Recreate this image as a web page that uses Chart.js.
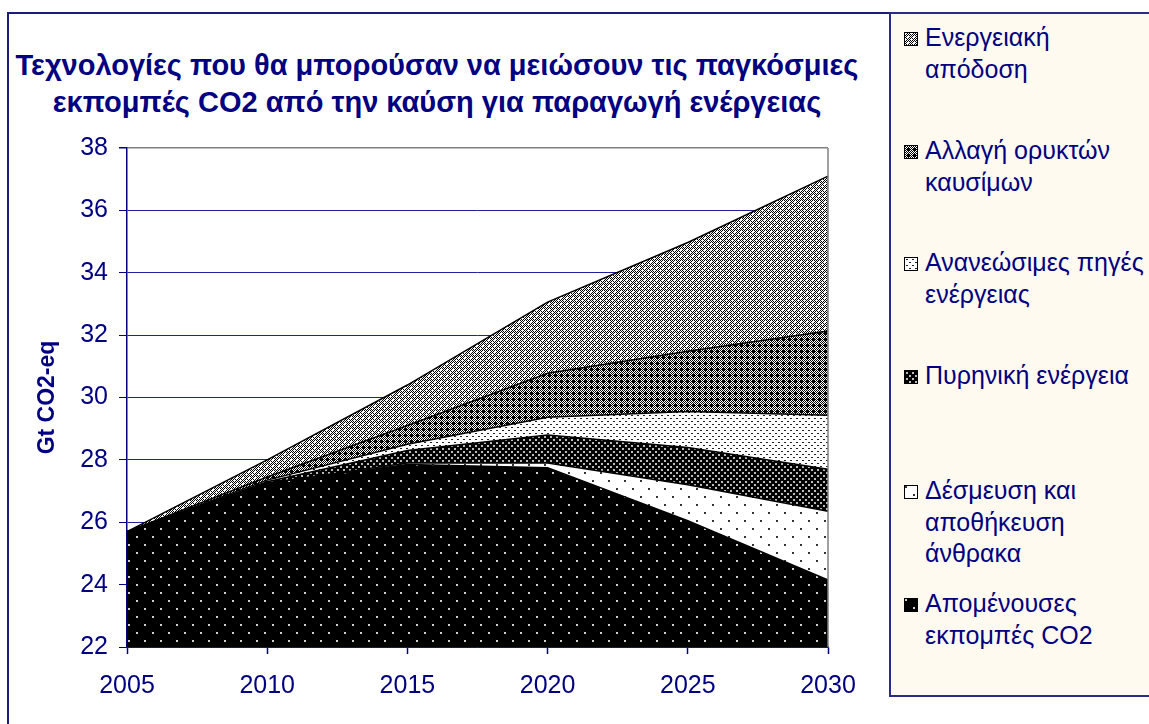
<!DOCTYPE html>
<html><head><meta charset="utf-8">
<script src="https://cdn.jsdelivr.net/npm/chart.js@4.4.1/dist/chart.umd.min.js"></script>
<style>
html,body{margin:0;padding:0;background:#fff;width:1149px;height:724px;overflow:hidden;font-family:"Liberation Sans",Arial,sans-serif;}
#frame{position:absolute;left:7px;top:12px;width:1300px;height:900px;border:2px solid #1a1a80;box-sizing:border-box}
#title{position:absolute;left:0;width:874px;top:47px;text-align:center;color:#000080;font-weight:bold;font-size:29px;line-height:37px;white-space:nowrap}
#cv{position:absolute;left:0;top:0}
#legend{position:absolute;left:889px;top:12px;width:400px;height:685px;background:#fffaf0;border:2px solid #2a2a8a;box-sizing:border-box}
.item{position:absolute;left:0;color:#000080;font-size:25px;line-height:31.5px;white-space:nowrap}
.item canvas{position:absolute;left:13px;top:10px;border:1px solid #000;box-sizing:border-box}
.item span{display:block;margin-left:34px}
</style></head>
<body>
<div id="frame"></div>
<div id="title">Τεχνολογίες που θα μπορούσαν να μειώσουν τις παγκόσμιες<br>εκπομπές CO2 από την καύση για παραγωγή ενέργειας</div>
<canvas id="cv" width="874" height="724"></canvas>
<div id="legend"></div>
<script>
// ---- data ----
const years = ['2005', '2010', '2015', '2020', '2025', '2030'];
const remaining  = [25.7, 27.25, 27.85, 27.75, 26.05, 24.15];
const ccs        = [0, 0, 0.05, 0.15, 1.15, 2.2];
const nuclear    = [0, 0.05, 0.4, 0.9, 1.2, 1.35];
const renewables = [0, 0.05, 0.2, 0.57, 1.15, 1.73];
const fuelSwitch = [0, 0.1, 0.6, 1.41, 1.93, 2.7];
const efficiency = [0, 0.55, 1.3, 2.28, 3.49, 4.97];
const seriesNames = [
  'Απομένουσες εκπομπές CO2',
  'Δέσμευση και αποθήκευση άνθρακα',
  'Πυρηνική ενέργεια',
  'Ανανεώσιμες πηγές ενέργειας',
  'Αλλαγή ορυκτών καυσίμων',
  'Ενεργειακή απόδοση'
];
const legendLines = [
  ['Απομένουσες', 'εκπομπές CO2'],
  ['Δέσμευση και', 'αποθήκευση', 'άνθρακα'],
  ['Πυρηνική ενέργεια'],
  ['Ανανεώσιμες πηγές', 'ενέργειας'],
  ['Αλλαγή ορυκτών', 'καυσίμων'],
  ['Ενεργειακή', 'απόδοση']
];
const yMin = 22, yMax = 38, yStep = 2;
const yAxisTitle = 'Gt CO2-eq';

// ---- patterns ----
function tile(w, h, bg, fg, pts) {
  const c = document.createElement('canvas'); c.width = w; c.height = h;
  const x = c.getContext('2d'); x.fillStyle = bg; x.fillRect(0, 0, w, h); x.fillStyle = fg;
  pts.forEach(p => x.fillRect(p[0], p[1], p[2] || 1, p[3] || 1));
  return c;
}
function checker(w, h, extra, extraColor) {
  const c = document.createElement('canvas'); c.width = w; c.height = h;
  const x = c.getContext('2d'); x.fillStyle = '#fff'; x.fillRect(0, 0, w, h);
  x.fillStyle = '#000';
  for (let i = 0; i < w; i++) for (let j = 0; j < h; j++) if ((i + j) % 2 === 0) x.fillRect(i, j, 1, 1);
  x.fillStyle = extraColor;
  extra.forEach(p => x.fillRect(p[0], p[1], 1, 1));
  return c;
}
const tiles = [
  tile(16, 16, '#000', '#d0d0d0', [[0, 0, 2, 2], [8, 8, 2, 2]]),
  tile(16, 16, '#fff', '#333', [[0, 0, 2, 2], [8, 8, 2, 2]]),
  tile(6, 6, '#000', '#bbb', [[1, 1, 2, 2], [4, 4, 2, 2]]),
  tile(6, 6, '#fff', '#222', [[1, 1], [4, 4], [2, 1], [5, 4]]),
  checker(6, 6, [[2, 3], [3, 2], [3, 4], [4, 3]], '#000'),
  checker(6, 6, [[3, 3], [0, 0], [2, 4]], '#fff')
];
const ctx = document.getElementById('cv').getContext('2d');
const pats = tiles.map(t => ctx.createPattern(t, 'repeat'));

// ---- legend (HTML) ----
const legendTops = [574, 461, 346, 233, 121, 8];
const leg = document.getElementById('legend');
[5, 4, 3, 2, 1, 0].forEach(i => {
  const d = document.createElement('div'); d.className = 'item'; d.style.top = legendTops[i] + 'px';
  const sw = document.createElement('canvas'); sw.width = 12; sw.height = 12;
  const sc = sw.getContext('2d'); sc.fillStyle = sc.createPattern(tiles[i], 'repeat'); sc.fillRect(0, 0, 12, 12);
  d.appendChild(sw);
  legendLines[i].forEach(t => { const s = document.createElement('span'); s.textContent = t; d.appendChild(s); });
  leg.appendChild(d);
});

const series = [remaining, ccs, nuclear, renewables, fuelSwitch, efficiency];
const navy = '#000080';
const rightBorder = {
  id: 'rightBorder',
  afterDatasetsDraw(chart) {
    const a = chart.chartArea, c = chart.ctx;
    c.save(); c.strokeStyle = '#808080'; c.lineWidth = 1.5;
    c.beginPath(); c.moveTo(a.right, a.top); c.lineTo(a.right, a.bottom); c.stroke(); c.restore();
  }
};

new Chart(ctx, {
  type: 'line',
  data: {
    labels: years,
    datasets: series.map((s, i) => ({
      label: seriesNames[i],
      data: s,
      backgroundColor: pats[i],
      borderColor: '#000',
      borderWidth: 1.5,
      pointRadius: 0,
      tension: 0,
      fill: i === 0 ? 'start' : '-1'
    }))
  },
  plugins: [rightBorder],
  options: {
    responsive: false,
    animation: false,
    devicePixelRatio: 1,
    layout: { padding: { top: 148, right: 46, bottom: 0, left: 0 } },
    plugins: { legend: { display: false }, title: { display: false }, tooltip: { enabled: false } },
    scales: {
      x: {
        offset: false,
        grid: { drawOnChartArea: false, tickLength: 7, tickColor: navy, tickWidth: 1.5 },
        border: { color: navy, width: 1.5 },
        ticks: { color: navy, font: { family: '"Liberation Sans", Arial', size: 25 }, padding: 17, maxRotation: 0 },
        afterFit(s) { s.height = 77; s.paddingLeft = 0; s.paddingRight = 0; }
      },
      y: {
        stacked: true,
        min: yMin, max: yMax,
        ticks: { stepSize: yStep, color: navy, font: { family: '"Liberation Sans", Arial', size: 25 }, padding: 11 },
        grid: {
          color: c => (c.tick && c.tick.value === yMax) ? '#808080' : '#2020a0',
          lineWidth: c => (c.tick && c.tick.value === yMax) ? 1.5 : 1,
          tickLength: 8, tickColor: navy
        },
        border: { color: navy, width: 1.5 },
        title: { display: true, text: yAxisTitle, color: navy, font: { family: '"Liberation Sans", Arial', size: 23, weight: 'bold' }, padding: { top: 34, bottom: 0 } },
        afterFit(s) { s.width = 127; s.paddingTop = 0; s.paddingBottom = 0; }
      }
    }
  }
});
</script>
</body></html>
